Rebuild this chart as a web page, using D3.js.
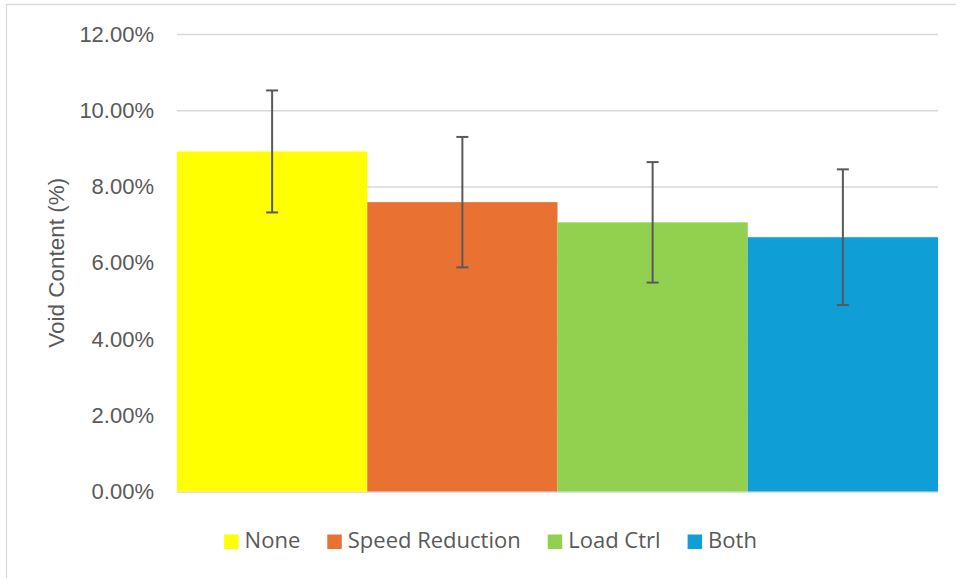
<!DOCTYPE html>
<html>
<head>
<meta charset="utf-8">
<script src="https://cdn.jsdelivr.net/npm/d3@7"></script>
<style>
  html, body { margin: 0; padding: 0; background: #ffffff; }
  svg { display: block; }
</style>
</head>
<body>
<svg id="chart" width="956" height="578"></svg>
<script>
// Void content by process control strategy (mean with ± error)
const categories = ["None", "Speed Reduction", "Load Ctrl", "Both"];
const voidMean   = [8.92, 7.59, 7.06, 6.67];
const voidError  = [1.60, 1.71, 1.58, 1.78];
const barColors  = ["#FFFF00", "#E97132", "#92D050", "#0F9ED5"];
const yTicks     = [0, 2, 4, 6, 8, 10, 12];
const yTitle     = "Void Content (%)";

const svg = d3.select("#chart");
const W = 956, H = 578;
const plot = { left: 177, right: 938, top: 34, bottom: 491.5 };

// chart frame
svg.append("rect")
  .attr("x", 6.5).attr("y", 4.5)
  .attr("width", W + 10).attr("height", H + 10)
  .attr("fill", "#ffffff")
  .attr("stroke", "#d9d9d9").attr("stroke-width", 1.3);

const x = d3.scaleBand()
  .domain(categories)
  .range([plot.left, plot.right])
  .paddingInner(0).paddingOuter(0);

const y = d3.scaleLinear()
  .domain([0, 12])
  .range([plot.bottom, plot.top]);

// gridlines
const yAxis = d3.axisLeft(y)
  .tickValues(yTicks)
  .tickSize(-(plot.right - plot.left))
  .tickPadding(23)
  .tickFormat(d => d3.format(".2f")(d) + "%");

const gAxis = svg.append("g")
  .attr("transform", `translate(${plot.left},0)`)
  .call(yAxis);
gAxis.select(".domain").remove();
gAxis.selectAll(".tick line")
  .attr("stroke", "#d9d9d9").attr("stroke-width", 1.6);
gAxis.selectAll(".tick text")
  .attr("fill", "#595959")
  .style("font-family", "'Liberation Sans', Arial, sans-serif")
  .style("font-size", "22px");

// bars
svg.append("g").selectAll("rect")
  .data(categories)
  .join("rect")
  .attr("x", d => x(d))
  .attr("y", (d, i) => y(voidMean[i]))
  .attr("width", x.bandwidth())
  .attr("height", (d, i) => y(0) - y(voidMean[i]))
  .attr("fill", (d, i) => barColors[i]);

// error bars
const capHalf = 6;
const err = svg.append("g")
  .attr("stroke", "#595959").attr("stroke-width", 2).attr("fill", "none");
categories.forEach((c, i) => {
  const cx = x(c) + x.bandwidth() / 2;
  const yHi = y(voidMean[i] + voidError[i]);
  const yLo = y(voidMean[i] - voidError[i]);
  err.append("line").attr("x1", cx).attr("x2", cx).attr("y1", yHi).attr("y2", yLo);
  err.append("line").attr("x1", cx - capHalf).attr("x2", cx + capHalf).attr("y1", yHi).attr("y2", yHi);
  err.append("line").attr("x1", cx - capHalf).attr("x2", cx + capHalf).attr("y1", yLo).attr("y2", yLo);
});

// y-axis title
svg.append("text")
  .attr("transform", `translate(64,${(plot.top + plot.bottom) / 2}) rotate(-90)`)
  .attr("text-anchor", "middle")
  .attr("fill", "#595959")
  .style("font-family", "'Liberation Sans', Arial, sans-serif")
  .style("font-size", "22.5px")
  .text(yTitle);

// legend
const legend = svg.append("g");
const sw = 14.5, swGap = 6, itemGap = 27, legendY = 548, legendCenter = 490.5;
const items = categories.map((c, i) => {
  const g = legend.append("g");
  g.append("rect")
    .attr("y", legendY - 13.5).attr("width", sw).attr("height", sw)
    .attr("fill", barColors[i]);
  const t = g.append("text")
    .attr("x", sw + swGap).attr("y", legendY)
    .attr("fill", "#595959")
    .style("font-family", "'Open Sans', sans-serif")
    .style("font-size", "22px")
    .text(c);
  return { g, w: sw + swGap + t.node().getComputedTextLength() };
});
const total = d3.sum(items, d => d.w) + itemGap * (items.length - 1);
let cursor = legendCenter - total / 2;
items.forEach(it => {
  it.g.attr("transform", `translate(${cursor},0)`);
  cursor += it.w + itemGap;
});
</script>
</body>
</html>
